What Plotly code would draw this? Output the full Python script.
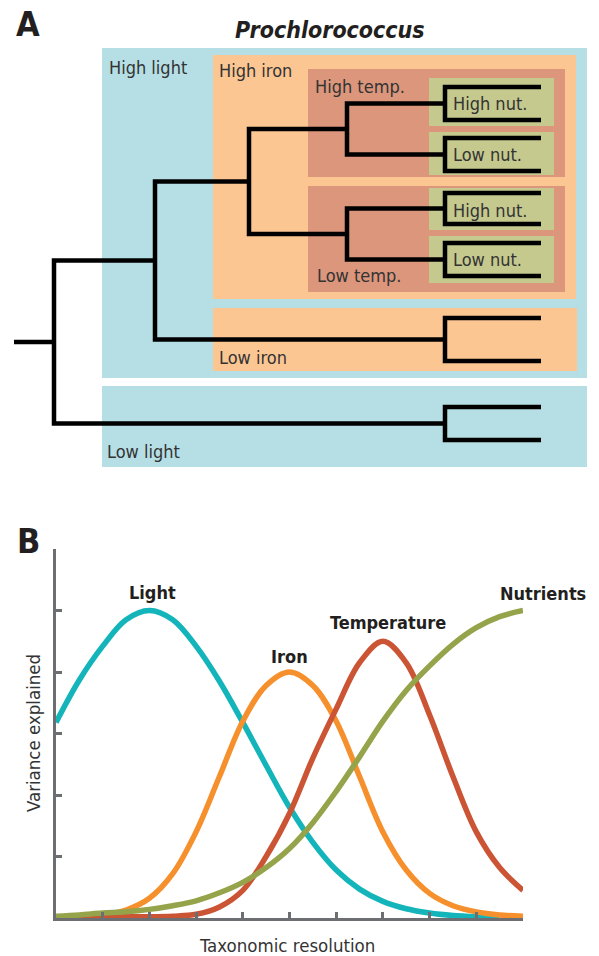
import plotly.graph_objects as go

# ---------------- data: panel B ----------------
resolution = [0, 0.5, 1, 1.5, 2, 2.5, 3, 3.5, 4, 4.5, 5, 5.5, 6, 6.5, 7, 7.5, 8, 8.5, 9, 9.5, 10]
light = [3.18, 3.87, 4.42, 4.85, 5.0, 4.85, 4.42, 3.85, 3.18, 2.48, 1.80, 1.23, 0.78, 0.47, 0.27, 0.15, 0.08, 0.04, 0.02, 0.01, None]
iron = [0.01, 0.02, 0.05, 0.13, 0.32, 0.72, 1.4, 2.3, 3.2, 3.78, 4.0, 3.78, 3.2, 2.3, 1.4, 0.78, 0.4, 0.2, 0.1, 0.05, 0.03]
temperature = [0.02, 0.02, 0.02, 0.02, 0.02, 0.03, 0.06, 0.18, 0.45, 1.0, 1.7, 2.6, 3.4, 4.15, 4.5, 4.15, 3.3, 2.3, 1.4, 0.82, 0.45]
nutrients = [0.03, 0.05, 0.08, 0.1, 0.14, 0.2, 0.28, 0.41, 0.58, 0.82, 1.13, 1.55, 2.06, 2.62, 3.2, 3.7, 4.1, 4.45, 4.72, 4.9, 5.0]
series_names = ["Light", "Iron", "Temperature", "Nutrients"]
y_ticks = [0, 1, 2, 3, 4, 5, 6]
x_ticks = [0, 1, 2, 3, 4, 5, 6, 7, 8, 9, 10]

# ---------------- data: panel A (tree) ----------------
# leaves are tip positions (rows); internal nodes are (name, depth, children)
tree = ("root", 54, [
    ("high_light", 155, [
        ("high_iron", 249, [
            ("high_temp", 347, [("hn1", 445, [87, 120]), ("ln1", 445, [138, 171])]),
            ("low_temp", 347, [("hn2", 445, [193, 224]), ("ln2", 445, [243, 276])]),
        ]),
        ("low_iron", 445, [318, 361]),
    ]),
    ("low_light", 445, [407, 440]),
])
TIP_DEPTH = 541
STUB_DEPTH = 14

# ---------------- styles / layout ----------------
W, H = 599, 956
FONT = "DejaVu Sans Condensed, Liberation Sans Narrow, Liberation Sans, sans-serif"
TXT = "#333333"
BLUE, PEACH, SALMON, GREEN = "#B5DFE5", "#FCC693", "#DB967C", "#C5C98E"
colors = ["#13B5BB", "#F6902D", "#CB5434", "#95A44A"]
AXC = "#6D6E71"

boxes = [
    (102, 48, 587, 378, BLUE),
    (213, 55, 576, 299, PEACH),
    (308, 69, 565, 177, SALMON),
    (308, 186, 565, 292, SALMON),
    (429, 78, 554, 126, GREEN),
    (429, 132, 554, 175, GREEN),
    (429, 188, 554, 230, GREEN),
    (429, 236, 554, 283, GREEN),
    (213, 308, 577, 371, PEACH),
    (102, 386, 587, 467, BLUE),
]
box_labels = [
    ("High light", 107, 67),
    ("High iron", 217, 70),
    ("High temp.", 313, 86),
    ("High nut.", 451, 103),
    ("Low nut.", 451, 154),
    ("High nut.", 451, 210),
    ("Low nut.", 451, 259),
    ("Low temp.", 315, 275),
    ("Low iron", 217, 357),
    ("Low light", 105, 451),
]

# ---------------- build tree path ----------------
tx, ty = [], []


def build(node):
    _, depth, children = node
    pts = []
    for c in children:
        if isinstance(c, tuple):
            pts.append((c[1], build(c)))
        else:
            pts.append((TIP_DEPTH, c))
    (x1, y1), (x2, y2) = pts[0], pts[-1]
    tx.extend([x1, depth, depth, x2, None])
    ty.extend([y1, y1, y2, y2, None])
    return sum(p[1] for p in pts) / len(pts)


root_y = build(tree)
tx.extend([STUB_DEPTH, tree[1], None])
ty.extend([root_y, root_y, None])

fig = go.Figure()

fig.add_trace(go.Scatter(x=tx, y=ty, mode="lines", xaxis="x", yaxis="y",
                         line=dict(color="black", width=4.5), hoverinfo="skip",
                         showlegend=False))

for name, vals, col in zip(series_names, [light, iron, temperature, nutrients], colors):
    fig.add_trace(go.Scatter(x=resolution, y=vals, mode="lines", name=name,
                             xaxis="x2", yaxis="y2",
                             line=dict(color=col, width=5.5, shape="spline", smoothing=1.0),
                             showlegend=False))

shapes = []
for x0, y0, x1, y1, c in boxes:
    shapes.append(dict(type="rect", xref="x", yref="y", x0=x0, y0=y0, x1=x1, y1=y1,
                       fillcolor=c, line=dict(width=0), layer="below"))

ann = []
for t, x, y in box_labels:
    ann.append(dict(text=t, x=x, y=y, xref="x", yref="y", xanchor="left", yanchor="middle",
                    showarrow=False, font=dict(family=FONT, size=18, color=TXT)))

# panel letters and title
ann.append(dict(text="<b>A</b>", x=28, y=24, xref="x", yref="y", showarrow=False,
                font=dict(family=FONT, size=34, color="#231F20")))
ann.append(dict(text="<b>B</b>", x=28, y=541, xref="x", yref="y", showarrow=False,
                font=dict(family=FONT, size=34, color="#231F20")))
ann.append(dict(text="<b><i>Prochlorococcus</i></b>", x=330, y=30, xref="x", yref="y",
                showarrow=False, font=dict(family=FONT, size=23, color="#231F20")))

# curve labels
label_pos = {"Light": (152, 592), "Iron": (289, 656), "Temperature": (388, 622), "Nutrients": (543, 593)}
for name in series_names:
    x, y = label_pos[name]
    ann.append(dict(text="<b>%s</b>" % name, x=x, y=y, xref="x", yref="y", showarrow=False,
                    font=dict(family=FONT, size=18, color="#231F20")))

ann.append(dict(text="Variance explained", x=33, y=733, xref="x", yref="y", showarrow=False,
                textangle=-90, font=dict(family=FONT, size=18.5, color=TXT)))
ann.append(dict(text="Taxonomic resolution", x=287, y=945, xref="x", yref="y", showarrow=False,
                font=dict(family=FONT, size=18.5, color=TXT)))

fig.update_layout(
    width=W, height=H, margin=dict(l=0, r=0, t=0, b=0),
    paper_bgcolor="white", plot_bgcolor="rgba(0,0,0,0)",
    xaxis=dict(domain=[0, 1], range=[0, W], visible=False, fixedrange=True),
    yaxis=dict(domain=[0, 1], range=[H, 0], visible=False, fixedrange=True),
    xaxis2=dict(domain=[56 / W, 523 / W], range=[0, 10], anchor="y2",
                showline=True, linecolor=AXC, linewidth=2.5, ticks="inside", ticklen=6,
                tickwidth=2.5, tickcolor=AXC, tickvals=x_ticks, showticklabels=False,
                showgrid=False, zeroline=False, fixedrange=True),
    yaxis2=dict(domain=[(H - 918) / H, (H - 549) / H], range=[0, 6], anchor="x2",
                showline=True, linecolor=AXC, linewidth=2.5, ticks="inside", ticklen=6,
                tickwidth=2.5, tickcolor=AXC, tickvals=y_ticks, showticklabels=False,
                showgrid=False, zeroline=False, fixedrange=True),
    shapes=shapes, annotations=ann,
)

fig.write_html("out.html", config={"displayModeBar": False},
               post_script="document.body.style.margin='0px';document.body.style.overflow='hidden';")
